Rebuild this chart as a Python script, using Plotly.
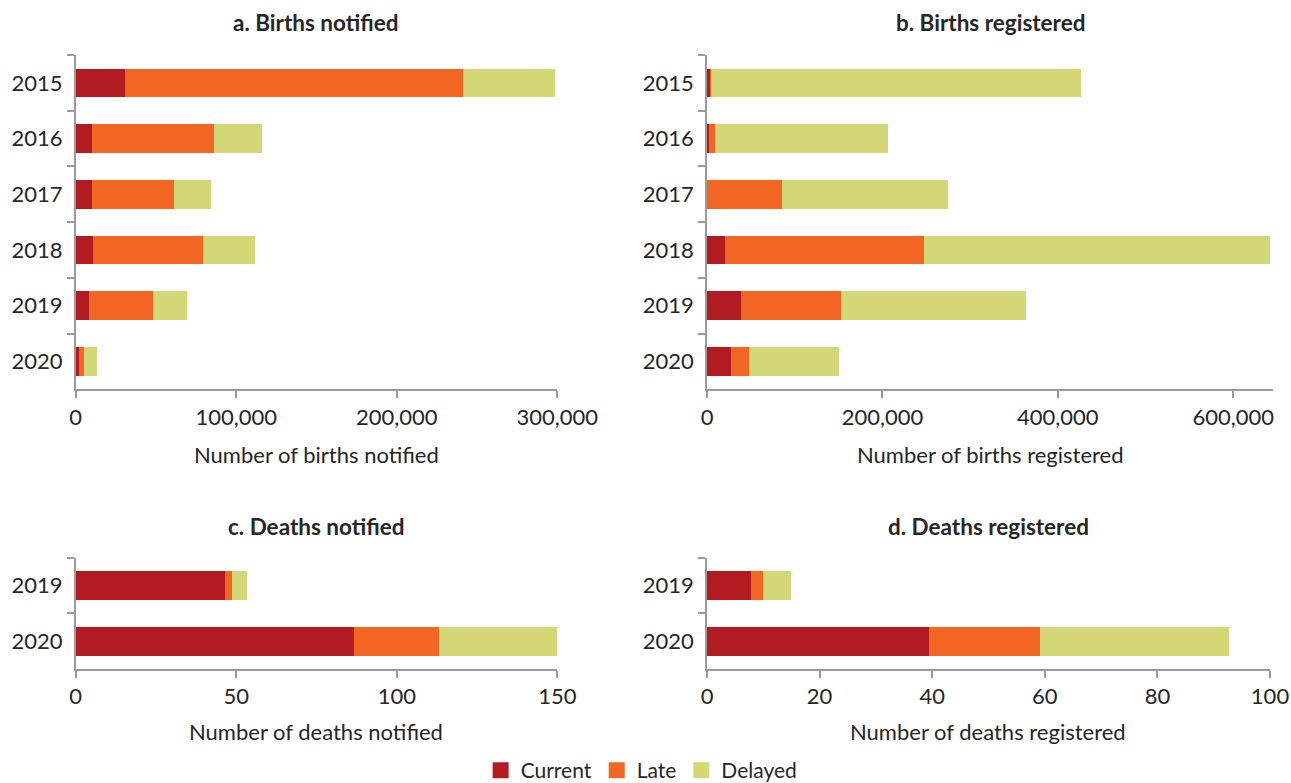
import plotly.graph_objects as go

years_births = ["2015", "2016", "2017", "2018", "2019", "2020"]
years_deaths = ["2019", "2020"]

# a. Births notified
bn_current = [30700, 10100, 10000, 10800, 8300, 2000]
bn_late = [210500, 76000, 51200, 68500, 39800, 3200]
bn_delayed = [57400, 29900, 23100, 32400, 21200, 8100]

# b. Births registered
br_current = [4500, 1900, 0, 20500, 38700, 27300]
br_late = [500, 7200, 85400, 226700, 114000, 20500]
br_delayed = [421000, 197100, 189100, 394200, 210700, 102600]

# c. Deaths notified
dn_current = [46.6, 86.8]
dn_late = [2.0, 26.5]
dn_delayed = [4.7, 36.7]

# d. Deaths registered
dr_current = [7.8, 39.5]
dr_late = [2.2, 19.6]
dr_delayed = [5.0, 33.7]

series_names = ["Current", "Late", "Delayed"]
colors = ["#B31B23", "#F36523", "#D3D775"]

titles = ["a. Births notified", "b. Births registered", "c. Deaths notified", "d. Deaths registered"]
xtitles = ["Number of births notified", "Number of births registered",
           "Number of deaths notified", "Number of deaths registered"]

W, H = 1291, 783
FONT = "Lato"
TXT = "#262626"
AX = "#9b9b9b"

fig = go.Figure()

panels = [
    (years_births, [bn_current, bn_late, bn_delayed], "x", "y"),
    (years_births, [br_current, br_late, br_delayed], "x2", "y2"),
    (years_deaths, [dn_current, dn_late, dn_delayed], "x3", "y3"),
    (years_deaths, [dr_current, dr_late, dr_delayed], "x4", "y4"),
]

for p, (cats, vals, xa, ya) in enumerate(panels):
    for i, (name, v) in enumerate(zip(series_names, vals)):
        fig.add_trace(go.Bar(
            y=cats, x=v, orientation="h", name=name,
            marker=dict(color=colors[i], line=dict(width=0)),
            xaxis=xa, yaxis=ya, showlegend=False,
            legendgroup=name,
        ))

# legend entries with larger square swatches
for i, name in enumerate(series_names):
    fig.add_trace(go.Scatter(
        x=[None], y=[None], mode="markers", name=name, legendgroup=name,
        marker=dict(symbol="square", size=16, color=colors[i], line=dict(width=0)),
        xaxis="x", yaxis="y", showlegend=True, hoverinfo="skip",
    ))

def px_x(a, b):
    return [a / W, b / W]

def px_y(top, bottom):
    return [1 - bottom / H, 1 - top / H]

xdomains = [px_x(75.7, 557.3), px_x(707, 1272.7), px_x(75.7, 557.3), px_x(707, 1270)]
ydomains = [px_y(55, 389.3), px_y(55, 389.3), px_y(557.5, 669.3), px_y(557.5, 669.3)]
xranges = [[0, 300000], [0, 645000], [0, 150], [0, 100]]
xdticks = [100000, 200000, 50, 20]
xstandoff = [1, 1, 0, 0]

axis_common = dict(
    showline=True, linecolor=AX, linewidth=1.5,
    ticks="outside", ticklen=7, tickwidth=1.5, tickcolor=AX,
    showgrid=False, zeroline=False, automargin=False,
    tickfont=dict(family=FONT, size=22, color=TXT),
)

layout_axes = {}
for k in range(4):
    sx = "" if k == 0 else str(k + 1)
    layout_axes["xaxis" + sx] = dict(
        axis_common, domain=xdomains[k], range=xranges[k],
        dtick=xdticks[k], tick0=0, tickformat=",", anchor="y" + sx,
        ticklabelstandoff=xstandoff[k],
    )
    layout_axes["yaxis" + sx] = dict(
        axis_common, domain=ydomains[k], anchor="x" + sx,
        autorange="reversed", type="category", tickson="boundaries",
        ticklabelstandoff=7,
    )

annotations = []
title_pos = [(316, 22), (990, 22), (316, 526), (988, 526)]
xtitle_pos = [(316, 454), (990, 454), (316, 731), (988, 731)]
for k in range(4):
    tx, ty = title_pos[k]
    annotations.append(dict(
        text="<b>" + titles[k] + "</b>", x=tx / W, y=1 - ty / H,
        xref="paper", yref="paper", xanchor="center", yanchor="middle",
        showarrow=False, font=dict(family=FONT, size=22.5, color=TXT),
    ))
    ax_, ay_ = xtitle_pos[k]
    annotations.append(dict(
        text=xtitles[k], x=ax_ / W, y=1 - ay_ / H,
        xref="paper", yref="paper", xanchor="center", yanchor="middle",
        showarrow=False, font=dict(family=FONT, size=22, color=TXT),
    ))

fig.update_layout(
    template="none",
    width=W, height=H,
    margin=dict(l=0, r=0, t=0, b=0, autoexpand=False),
    paper_bgcolor="white", plot_bgcolor="white",
    barmode="stack", bargap=0.485,
    font=dict(family=FONT, color=TXT, size=22),
    showlegend=True,
    legend=dict(
        orientation="h", x=0.497, xanchor="center", y=1 - 770.5 / H, yanchor="middle",
        font=dict(family=FONT, size=21, color=TXT),
        traceorder="normal", itemwidth=30, itemsizing="trace",
    ),
    annotations=annotations,
    **layout_axes,
)

fig.write_html(
    "out.html",
    config={"displayModeBar": False},
    post_script="document.body.style.margin='0px';document.body.style.overflow='hidden';",
)
